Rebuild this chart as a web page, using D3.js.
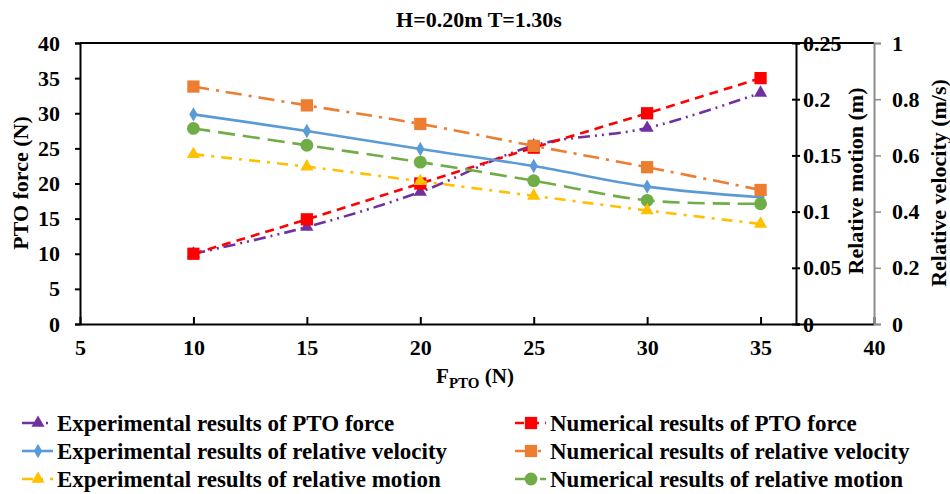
<!DOCTYPE html>
<html lang='en'>
<head>
  <meta charset='UTF-8'>
  <title>PTO chart</title>
  <style>
    * { margin: 0; padding: 0; }
    body { background: #fff; }
    svg text { font-family: 'Liberation Serif', 'Times New Roman', serif; font-weight: bold; fill: #000; }
  </style>
</head>
<body>
<div id='chart'></div>
<script src='https://cdn.jsdelivr.net/npm/d3@7'></script>
<script>
  // data
  const fPto = [10, 15, 20, 25, 30, 35]
  const expForce = [10, 13.8, 18.8, 25.4, 27.9, 32.9]
  const numForce = [10, 14.9, 20.0, 25.1, 30.0, 35.0]
  const expVelocity = [0.746, 0.687, 0.623, 0.562, 0.489, 0.451]
  const numVelocity = [0.845, 0.778, 0.712, 0.634, 0.558, 0.477]
  const expMotion = [0.151, 0.140, 0.127, 0.114, 0.101, 0.089]
  const numMotion = [0.174, 0.159, 0.144, 0.1275, 0.110, 0.107]

  const xTicks = [5, 10, 15, 20, 25, 30, 35, 40]
  const forceTicks = [0, 5, 10, 15, 20, 25, 30, 35, 40]
  const motionTicks = [0, 0.05, 0.1, 0.15, 0.2, 0.25]
  const velocityTicks = [0, 0.2, 0.4, 0.6, 0.8, 1]

  const width = 950, height = 494
  const tickFont = '22px'
  const svg = d3.select('#chart').append('svg')
    .attr('width', width).attr('height', height)

  svg.append('rect').attr('width', width).attr('height', height).attr('fill', '#fff')

  const x = d3.scaleLinear().domain([5, 40]).range([80, 874])
  const yF = d3.scaleLinear().domain([0, 40]).range([324, 43])
  const yM = d3.scaleLinear().domain([0, 0.25]).range([324, 43])
  const yV = d3.scaleLinear().domain([0, 1]).range([324, 43])

  // title
  svg.append('text').attr('x', 479).attr('y', 27).attr('text-anchor', 'middle')
    .style('font-size', '22px').text('H=0.20m T=1.30s')

  // top border
  svg.append('line').attr('x1', 80).attr('x2', 874).attr('y1', 43).attr('y2', 43)
    .attr('stroke', '#000').attr('stroke-width', 2)

  function styleText (g) {
    g.selectAll('text').style('font-size', tickFont).style('font-family', 'Liberation Serif').style('font-weight', 'bold')
  }

  // left axis
  const gl = svg.append('g').attr('transform', 'translate(80,0)')
    .call(d3.axisLeft(yF).tickValues(forceTicks).tickSize(5).tickPadding(15).tickFormat(d3.format('d')))
  gl.select('.domain').attr('stroke-width', 2)
  gl.selectAll('.tick line').attr('stroke-width', 2)
  styleText(gl)

  // bottom axis (ticks inward)
  const gb = svg.append('g').attr('transform', 'translate(0,324)')
    .call(d3.axisBottom(x).tickValues(xTicks).tickSizeInner(-7).tickSizeOuter(0).tickPadding(15))
  gb.select('.domain').attr('stroke-width', 2)
  gb.selectAll('.tick line').attr('stroke-width', 2)
  styleText(gb)

  // relative motion axis
  const gm = svg.append('g').attr('transform', 'translate(796,0)')
    .call(d3.axisRight(yM).tickValues(motionTicks).tickSize(4).tickPadding(3).tickFormat(d => d3.format('')(d)))
  gm.select('.domain').attr('stroke-width', 2)
  gm.selectAll('.tick line').attr('x1', -4).attr('stroke-width', 2)
  styleText(gm)

  // relative velocity axis
  const gv = svg.append('g').attr('transform', 'translate(874,0)')
    .call(d3.axisRight(yV).tickValues(velocityTicks).tickSize(7).tickPadding(11).tickFormat(d => d3.format('')(d)))
  gv.select('.domain').attr('stroke', '#8c8c8c').attr('stroke-width', 2)
  gv.selectAll('.tick line').attr('stroke', '#8c8c8c').attr('stroke-width', 1.5)
  styleText(gv)

  // axis titles
  svg.append('text').attr('transform', 'translate(28,183) rotate(-90)').attr('text-anchor', 'middle')
    .style('font-size', '22px').text('PTO force (N)')
  svg.append('text').attr('transform', 'translate(863,181) rotate(-90)').attr('text-anchor', 'middle')
    .style('font-size', '22px').text('Relative motion (m)')
  svg.append('text').attr('transform', 'translate(946,183) rotate(-90)').attr('text-anchor', 'middle')
    .style('font-size', '22px').text('Relative velocity (m/s)')
  const xt = svg.append('text').attr('x', 475).attr('y', 383).attr('text-anchor', 'middle')
    .style('font-size', '21px')
  xt.append('tspan').text('F')
  xt.append('tspan').attr('dy', 5).style('font-size', '15px').text('PTO')
  xt.append('tspan').attr('dy', -5).text(' (N)')

  const series = [
    { name: 'Experimental results of PTO force', vals: expForce, y: yF, color: '#7030a0', dash: '12,5,2,5,2,5', sym: d3.symbolTriangle, size: 75 },
    { name: 'Numerical results of PTO force', vals: numForce, y: yF, color: '#ff0000', dash: '9,6', sym: d3.symbolSquare, size: 150 },
    { name: 'Experimental results of relative velocity', vals: expVelocity, y: yV, color: '#5b9bd5', dash: null, sym: d3.symbolDiamond, size: 60 },
    { name: 'Numerical results of relative velocity', vals: numVelocity, y: yV, color: '#ed7d31', dash: '16,7,3,7', sym: d3.symbolSquare, size: 150 },
    { name: 'Numerical results of relative motion', vals: numMotion, y: yM, color: '#70ad47', dash: '17,8', sym: d3.symbolCircle, size: 130 },
    { name: 'Experimental results of relative motion', vals: expMotion, y: yM, color: '#ffc000', dash: '11,7,3,7', sym: d3.symbolTriangle, size: 75 }
  ]

  const plot = svg.append('g')
  series.forEach(s => {
    const pts = fPto.map((f, i) => [x(f), s.y(s.vals[i])])
    plot.append('path')
      .attr('d', d3.line().curve(d3.curveCatmullRom.alpha(0.5))(pts))
      .attr('fill', 'none').attr('stroke', s.color).attr('stroke-width', 2.6)
      .attr('stroke-dasharray', s.dash)
    plot.selectAll(null).data(pts).enter().append('path')
      .attr('transform', d => 'translate(' + d[0] + ',' + d[1] + ')')
      .attr('d', d3.symbol().type(s.sym).size(s.size)())
      .attr('fill', s.color)
  })

  // legend
  const legendOrder = [
    [series[0], 22, 423], [series[2], 22, 451], [series[5], 22, 479],
    [series[1], 515, 423], [series[3], 515, 451], [series[4], 515, 479]
  ]
  legendOrder.forEach(([s, lx, ly]) => {
    const g = svg.append('g').attr('transform', 'translate(' + lx + ',' + ly + ')')
    g.append('line').attr('x1', 0).attr('x2', 31).attr('y1', 0).attr('y2', 0)
      .attr('stroke', s.color).attr('stroke-width', 2.6).attr('stroke-dasharray', s.dash)
    g.append('path').attr('transform', 'translate(16,0)')
      .attr('d', d3.symbol().type(s.sym).size(s.size)()).attr('fill', s.color)
    g.append('text').attr('x', 35).attr('y', 8).style('font-size', '23px').text(s.name)
  })
</script>
</body>
</html>
